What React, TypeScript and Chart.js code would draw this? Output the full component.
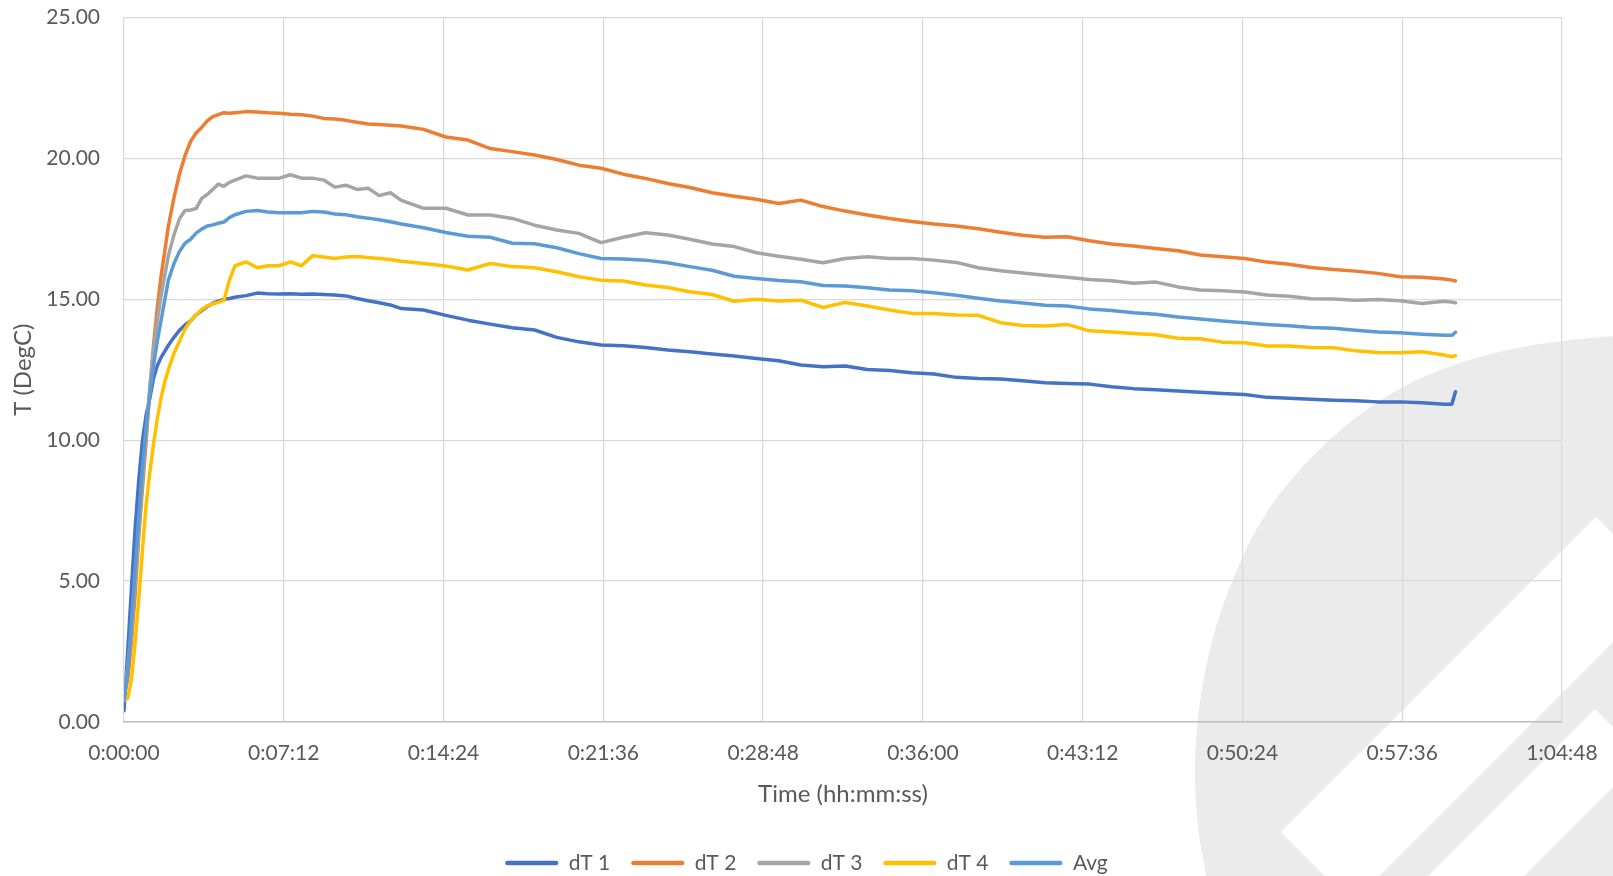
import React, { useEffect, useRef } from "react";
import { Chart, registerables } from "chart.js";

Chart.register(...registerables);

// Elapsed time of each sample, in seconds
const times = [
  0, 10, 20, 30, 40, 50, 60, 70, 80, 90, 100, 110, 120,
  135, 150, 165, 180, 195, 210, 225, 240, 255, 270,
  285, 300,
  330, 360, 390, 420, 450, 480, 510, 540, 570, 600, 630, 660, 690, 720, 750,
  810, 870, 930, 990, 1050, 1110, 1170, 1230, 1290, 1350, 1410, 1470, 1530, 1590, 1650, 1710,
  1770, 1830, 1890, 1950, 2010, 2070, 2130, 2190, 2250, 2310, 2370, 2430, 2490, 2550, 2610,
  2670, 2730, 2790, 2850, 2910, 2970, 3030, 3090, 3150, 3210, 3270, 3330, 3390, 3450, 3510, 3570,
  3590, 3600,
];

const dT1 = [
  0.4, 2.5, 4.7, 6.85, 8.6, 10.0, 10.9, 11.5, 12.2, 12.64, 12.93, 13.15, 13.37,
  13.65, 13.9, 14.09, 14.23, 14.45, 14.6, 14.74, 14.86, 14.93, 15.0,
  15.03, 15.07,
  15.13, 15.22, 15.2, 15.19, 15.2, 15.18, 15.19, 15.17, 15.15, 15.12, 15.03, 14.95, 14.88, 14.8, 14.67,
  14.62, 14.43, 14.26, 14.12, 13.99, 13.91, 13.65, 13.49, 13.38, 13.35, 13.29, 13.2, 13.14, 13.06, 12.99, 12.9,
  12.82, 12.67, 12.61, 12.63, 12.51, 12.47, 12.39, 12.35, 12.23, 12.19, 12.17, 12.11, 12.04, 12.01, 11.99,
  11.9, 11.83, 11.79, 11.75, 11.7, 11.66, 11.62, 11.52, 11.49, 11.45, 11.42, 11.4, 11.36, 11.36, 11.33, 11.28,
  11.28, 11.72,
];

const dT2 = [
  0.9, 1.5, 2.8, 4.5, 6.6, 8.3, 10.0, 11.8, 13.4, 14.7, 15.8, 16.7, 17.6,
  18.6, 19.45, 20.1, 20.6, 20.9, 21.1, 21.33, 21.48, 21.55, 21.62,
  21.6, 21.62,
  21.66, 21.65, 21.62, 21.6, 21.57, 21.55, 21.5, 21.42, 21.4, 21.35, 21.28, 21.22, 21.2, 21.18, 21.15,
  21.03, 20.76, 20.65, 20.35, 20.24, 20.12, 19.96, 19.76, 19.65, 19.44, 19.29, 19.11, 18.97, 18.78, 18.66, 18.55,
  18.4, 18.52, 18.29, 18.13, 17.99, 17.87, 17.76, 17.67, 17.6, 17.5, 17.38, 17.27, 17.2, 17.22, 17.08,
  16.96, 16.89, 16.8, 16.72, 16.57, 16.51, 16.45, 16.32, 16.24, 16.13, 16.06, 16.0, 15.92, 15.8, 15.78, 15.72,
  15.68, 15.65,
];

const dT3 = [
  1.05, 1.9, 3.2, 4.96, 6.85, 8.6, 10.3, 11.92, 13.22, 14.23, 15.1, 15.83, 16.55,
  17.28, 17.86, 18.15, 18.17, 18.22, 18.58, 18.72, 18.9, 19.09, 19.01,
  19.15, 19.23,
  19.38, 19.3, 19.3, 19.3, 19.42, 19.3, 19.3, 19.23, 18.98, 19.05, 18.9, 18.94, 18.68, 18.78, 18.51,
  18.23, 18.23, 17.99, 17.99, 17.87, 17.63, 17.46, 17.34, 17.01, 17.2, 17.36, 17.28, 17.13, 16.96, 16.87, 16.65,
  16.53, 16.42, 16.3, 16.45, 16.51, 16.45, 16.45, 16.39, 16.31, 16.12, 16.01, 15.93, 15.85, 15.78, 15.7,
  15.66, 15.57, 15.61, 15.44, 15.33, 15.3, 15.26, 15.15, 15.11, 15.02, 15.01, 14.97, 14.99, 14.95, 14.85, 14.93,
  14.9, 14.88,
];

const dT4 = [
  0.76, 0.84, 1.49, 2.8, 4.38, 6.12, 7.72, 8.87, 9.89, 10.76, 11.48, 12.06, 12.5,
  13.08, 13.51, 13.95, 14.23, 14.45, 14.64, 14.77, 14.84, 14.89, 14.96,
  15.68, 16.19,
  16.33, 16.12, 16.19, 16.19, 16.33, 16.19, 16.55, 16.5, 16.45, 16.5, 16.52, 16.48, 16.45, 16.41, 16.35,
  16.27, 16.18, 16.04, 16.27, 16.16, 16.12, 15.98, 15.8, 15.68, 15.65, 15.51, 15.42, 15.27, 15.17, 14.93, 15.0,
  14.94, 14.97, 14.71, 14.89, 14.76, 14.62, 14.5, 14.5, 14.44, 14.43, 14.17, 14.07, 14.05, 14.11, 13.88,
  13.84, 13.79, 13.74, 13.62, 13.6, 13.48, 13.46, 13.34, 13.34, 13.29, 13.28, 13.17, 13.11, 13.1, 13.14, 13.02,
  12.96, 13.0,
];

const avg = [
  0.76, 1.78, 3.52, 5.4, 7.28, 9.02, 10.47, 11.63, 12.64, 13.51, 14.23, 14.96, 15.68,
  16.26, 16.7, 16.99, 17.13, 17.35, 17.49, 17.6, 17.64, 17.7, 17.74,
  17.9, 18.0,
  18.12, 18.15, 18.1, 18.07, 18.07, 18.07, 18.12, 18.1, 18.03, 18.0, 17.93, 17.88, 17.82, 17.75, 17.67,
  17.54, 17.37, 17.24, 17.2, 16.99, 16.97, 16.83, 16.62, 16.45, 16.43, 16.39, 16.3, 16.16, 16.03, 15.82, 15.74,
  15.67, 15.62, 15.49, 15.47, 15.41, 15.33, 15.3, 15.23, 15.14, 15.04, 14.94, 14.87, 14.79, 14.76, 14.66,
  14.6, 14.52, 14.47, 14.37, 14.3, 14.23, 14.17, 14.11, 14.06, 14.0, 13.97, 13.9, 13.84, 13.81, 13.76, 13.72,
  13.72, 13.83,
];

const seriesNames = ["dT 1", "dT 2", "dT 3", "dT 4", "Avg"];
const seriesValues = [dT1, dT2, dT3, dT4, avg];
const seriesColors = ["#4472C4", "#ED7D31", "#A5A5A5", "#FFC000", "#5B9BD5"];

const xMax = 3888; // 1:04:48
const xStep = 432; // 0:07:12
const yMax = 25;
const yStep = 5;

const FONT = "Lato, 'Noto Sans', sans-serif";
const TEXT = "#595959";

function fmtTime(sec: number): string {
  const h = Math.floor(sec / 3600);
  const m = Math.floor((sec % 3600) / 60);
  const s = Math.round(sec % 60);
  return `${h}:${String(m).padStart(2, "0")}:${String(s).padStart(2, "0")}`;
}

const watermark = {
  id: "watermark",
  beforeDraw(chart: any) {
    const { ctx, width, height } = chart;
    ctx.save();
    ctx.fillStyle = "#FFFFFF";
    ctx.fillRect(0, 0, width, height);
    const pts: [number, number][] = [
      [1613, 336], [1533, 342], [1433, 370], [1367, 407], [1313, 454], [1267, 508],
      [1233, 575], [1208, 650], [1194, 740], [1196, 820], [1206, 876],
    ];
    ctx.beginPath();
    ctx.moveTo(pts[0][0], pts[0][1]);
    for (let i = 1; i < pts.length - 1; i++) {
      const mx = (pts[i][0] + pts[i + 1][0]) / 2;
      const my = (pts[i][1] + pts[i + 1][1]) / 2;
      ctx.quadraticCurveTo(pts[i][0], pts[i][1], mx, my);
    }
    ctx.lineTo(pts[pts.length - 1][0], pts[pts.length - 1][1]);
    ctx.lineTo(1613, 876);
    ctx.closePath();
    ctx.fillStyle = "#EBEBEB";
    ctx.fill();
    ctx.clip();
    ctx.fillStyle = "#FFFFFF";
    const band = (a1: number, a2: number, b1: number, b2: number) => {
      const c = (a: number, b: number) => [(a + b) / 2, (a - b) / 2];
      const p = [c(a1, b1), c(a1, b2), c(a2, b2), c(a2, b1)];
      ctx.beginPath();
      ctx.moveTo(p[0][0], p[0][1]);
      for (let i = 1; i < 4; i++) ctx.lineTo(p[i][0], p[i][1]);
      ctx.closePath();
      ctx.fill();
    };
    band(2113, 2255, 449, 1079);
    band(2304, 2400, -200, 886);
    ctx.restore();
  },
};

const legendHeight = {
  id: "legendHeight",
  afterInit(chart: any) {
    const lg = chart.legend;
    if (!lg) return;
    const orig = lg.update.bind(lg);
    lg.update = (w: number, h: number, m: any) => {
      orig(w, h, m);
      lg.height = 44.5;
    };
  },
};

export default function App() {
  const ref = useRef<HTMLCanvasElement>(null);

  useEffect(() => {
    document.body.style.margin = "0";
    const datasets = seriesNames.map((name, si) => ({
      label: name,
      data: times.map((t, i) => ({ x: t, y: seriesValues[si][i] })),
      borderColor: seriesColors[si],
      backgroundColor: seriesColors[si],
      borderWidth: 3.5,
      pointRadius: 0,
      pointHoverRadius: 0,
      tension: 0,
      fill: false,
      borderCapStyle: "round" as const,
      borderJoinStyle: "round" as const,
      order: seriesNames.length - si,
    }));

    const chart = new Chart(ref.current as HTMLCanvasElement, {
      type: "line",
      data: { datasets },
      plugins: [watermark, legendHeight],
      options: {
        animation: false,
        responsive: false,
        maintainAspectRatio: false,
        layout: { padding: { left: 0, right: 0, top: 17.5, bottom: 0 } },
        plugins: {
          tooltip: { enabled: false },
          legend: {
            display: true,
            position: "bottom",
            labels: {
              color: TEXT,
              font: { family: FONT, size: 21 },
              boxWidth: 53,
              boxHeight: 4.5,
              padding: 21,
              useBorderRadius: true,
              borderRadius: 2,
              sort: (a: any, b: any) => a.datasetIndex - b.datasetIndex,
              generateLabels: (c: any) => {
                const items = (Chart.defaults as any).plugins.legend.labels.generateLabels(c);
                return items.map((it: any) => ({ ...it, fillStyle: it.strokeStyle, lineWidth: 0 }));
              },
            },
          },
        },
        scales: {
          x: {
            type: "linear",
            min: 0,
            max: xMax,
            afterFit: (s: any) => {
              s.height = 109.5;
            },
            ticks: {
              stepSize: xStep,
              autoSkip: false,
              maxRotation: 0,
              padding: 0,
              color: TEXT,
              font: { family: FONT, size: 21 },
              callback: (v: any) => fmtTime(Number(v)),
            },
            grid: {
              color: "#D9D9D9",
              lineWidth: 1.25,
              drawTicks: true,
              tickLength: 19,
              tickColor: "rgba(0,0,0,0)",
            },
            border: { display: true, color: "#BFBFBF", width: 1.5 },
            title: {
              display: true,
              text: "Time (hh:mm:ss)",
              color: TEXT,
              font: { family: FONT, size: 24 },
              padding: { top: 0, bottom: 23 },
            },
          },
          y: {
            type: "linear",
            position: "left",
            min: 0,
            max: yMax,
            afterFit: (s: any) => {
              s.width = 124;
            },
            ticks: {
              stepSize: yStep,
              padding: 0,
              color: TEXT,
              font: { family: FONT, size: 21 },
              callback: (v: any) => Number(v).toFixed(2),
            },
            grid: {
              color: "#D9D9D9",
              lineWidth: 1.25,
              drawTicks: true,
              tickLength: 24,
              tickColor: "rgba(0,0,0,0)",
            },
            border: { display: false },
            title: {
              display: true,
              text: "T (DegC)",
              color: TEXT,
              font: { family: FONT, size: 24 },
              padding: { top: 9, bottom: 0 },
            },
          },
          yRight: {
            type: "linear",
            position: "right",
            display: true,
            afterFit: (s: any) => {
              s.width = 51;
            },
            ticks: { display: false },
            grid: { display: false, drawTicks: false },
            border: { display: false },
            title: { display: false },
          },
        },
      } as any,
    });
    return () => chart.destroy();
  }, []);

  return (
    <div style={{ position: "absolute", left: 0, top: 0, width: 1613, height: 876 }}>
      <canvas ref={ref} width={1613} height={876} style={{ width: "1613px", height: "876px" }} />
    </div>
  );
}
